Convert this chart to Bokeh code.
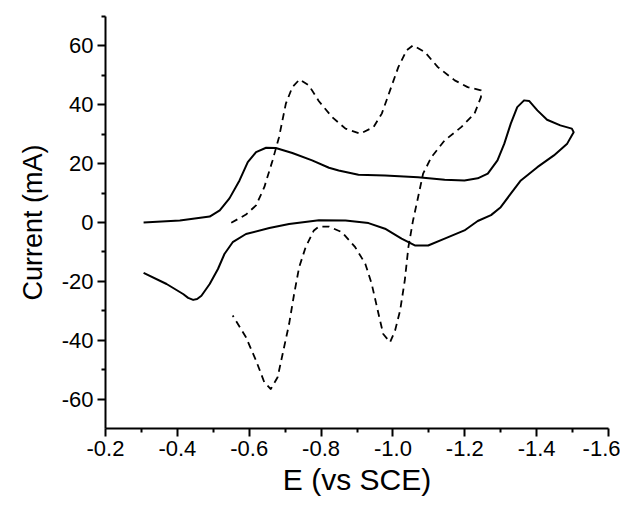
from bokeh.plotting import figure
from bokeh.models import Range1d, FixedTicker
from bokeh.embed import file_html
from bokeh.resources import INLINE

# Solid curve (E in V vs SCE, current in mA)
solid_E = [-0.306, -0.407, -0.490, -0.518, -0.545, -0.573, -0.596, -0.619, -0.647, -0.674,
           -0.720, -0.775, -0.822, -0.849, -0.904, -0.978, -1.070, -1.144, -1.199, -1.236,
           -1.264, -1.291, -1.310, -1.328, -1.346, -1.365, -1.379, -1.402, -1.429, -1.466,
           -1.498, -1.503,
           -1.485, -1.448, -1.402, -1.356, -1.328, -1.300, -1.273, -1.236, -1.199, -1.144,
           -1.098, -1.061, -1.024, -0.978, -0.932, -0.868, -0.794, -0.711, -0.656, -0.591,
           -0.554, -0.531, -0.513, -0.490, -0.467, -0.455, -0.444, -0.430, -0.416, -0.370,
           -0.306]
solid_I = [0.0, 0.7, 2.0, 4.1, 8.2, 14.3, 20.5, 23.9, 25.4, 25.3,
           23.6, 21.1, 18.6, 17.7, 16.2, 16.0, 15.4, 14.5, 14.3, 15.0,
           16.6, 21.1, 26.8, 33.6, 39.2, 41.5, 41.3, 38.1, 34.9, 33.0,
           31.9, 30.7,
           26.8, 22.8, 18.8, 14.3, 9.8, 5.2, 2.5, 0.5, -2.7, -5.5,
           -7.8, -7.8, -5.5, -2.1, -0.2, 0.7, 0.8, -0.5, -1.9, -3.9,
           -6.7, -10.7, -15.8, -20.9, -24.9, -26.0, -26.3, -25.6, -24.3, -20.9,
           -17.1]

# Dashed curve
dash_E = [-0.550, -0.591, -0.619, -0.642, -0.665, -0.683, -0.702, -0.720, -0.740, -0.766,
          -0.794, -0.831, -0.868, -0.909, -0.946, -0.969, -0.992, -1.015, -1.038, -1.056,
          -1.089, -1.125, -1.172, -1.208, -1.245,
          -1.245, -1.227, -1.190, -1.144, -1.107, -1.084, -1.070, -1.056, -1.043, -1.033,
          -1.020, -1.006, -0.992, -0.973, -0.960, -0.941, -0.923, -0.895, -0.858, -0.822,
          -0.794, -0.780, -0.757, -0.739, -0.725, -0.711, -0.693, -0.679, -0.660, -0.642,
          -0.619, -0.591, -0.554]
dash_I = [-0.1, 2.7, 5.8, 12.0, 21.1, 29.0, 40.4, 46.0, 48.6, 46.6,
          41.2, 35.8, 31.9, 30.2, 32.4, 37.0, 44.9, 52.8, 58.5, 60.2,
          57.9, 52.8, 48.3, 46.0, 44.9,
          42.6, 37.0, 32.4, 27.9, 22.2, 16.6, 8.6, 0.7, -8.4, -19.7,
          -29.9, -36.7, -40.7, -37.9, -31.1, -20.9, -14.0, -8.4, -3.3, -1.4,
          -1.4, -2.7, -8.4, -15.2, -24.3, -34.5, -44.7, -52.6, -56.6, -54.3,
          -46.9, -39.0, -31.6]

x_ticks = [-0.2, -0.4, -0.6, -0.8, -1.0, -1.2, -1.4, -1.6]
x_tick_labels = ["-0.2", "-0.4", "-0.6", "-0.8", "-1.0", "-1.2", "-1.4", "-1.6"]
x_minor = [-0.3, -0.5, -0.7, -0.9, -1.1, -1.3, -1.5]
y_ticks = [-60, -40, -20, 0, 20, 40, 60]
y_tick_labels = ["-60", "-40", "-20", "0", "20", "40", "60"]
y_minor = [-50, -30, -10, 10, 30, 50, 70]

FONT = "Liberation Sans"

p = figure(width=620, height=504, output_backend="svg", toolbar_location=None,
           x_range=Range1d(-0.2, -1.6), y_range=Range1d(-70, 70),
           min_border_left=105, min_border_right=12, min_border_top=16,
           min_border_bottom=76)
p.grid.visible = False
p.outline_line_color = None
p.background_fill_color = "white"

p.line(solid_E, solid_I, line_color="black", line_width=2, line_join="round")
p.line(dash_E, dash_I, line_color="black", line_width=1.8, line_dash="7 5",
       line_join="round")

p.xaxis.ticker = FixedTicker(ticks=x_ticks, minor_ticks=x_minor)
p.xaxis.major_label_overrides = {t: l for t, l in zip(x_ticks, x_tick_labels)}
p.yaxis.ticker = FixedTicker(ticks=y_ticks, minor_ticks=y_minor)
p.yaxis.major_label_overrides = {t: l for t, l in zip(y_ticks, y_tick_labels)}

p.xaxis.axis_label = "E (vs SCE)"
p.yaxis.axis_label = "Current (mA)"

for ax in (p.xaxis, p.yaxis):
    ax.axis_line_width = 2
    ax.axis_line_color = "black"
    ax.major_tick_line_width = 2
    ax.minor_tick_line_width = 2
    ax.major_tick_line_color = "black"
    ax.minor_tick_line_color = "black"
    ax.major_tick_out = 8
    ax.major_tick_in = 0
    ax.minor_tick_out = 4
    ax.minor_tick_in = 0
    ax.major_label_text_font = FONT
    ax.major_label_text_font_size = "22px"
    ax.major_label_text_color = "black"
    ax.axis_label_text_font = FONT
    ax.axis_label_text_font_style = "normal"
    ax.axis_label_text_color = "black"

p.xaxis.axis_label_text_font_size = "30px"
p.yaxis.axis_label_text_font_size = "27px"
p.xaxis.major_label_standoff = 4
p.xaxis.axis_label_standoff = 4
p.yaxis.major_label_standoff = 4
p.yaxis.axis_label_standoff = 11

open("out.html", "w").write(file_html(p, INLINE))
